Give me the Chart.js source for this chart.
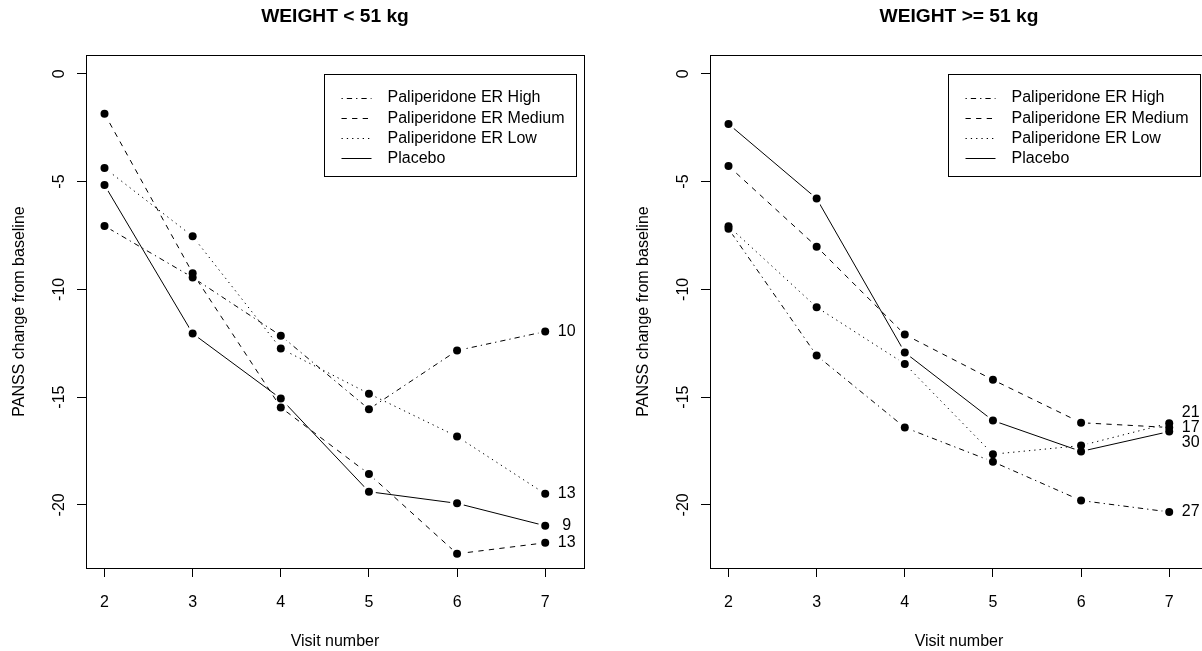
<!DOCTYPE html>
<html>
<head>
<meta charset="utf-8">
<script src="https://cdn.jsdelivr.net/npm/chart.js@4.4.1/dist/chart.umd.min.js"></script>
<style>
  html, body { margin: 0; padding: 0; background: #fff; }
  #wrap { position: relative; width: 1202px; height: 651px; overflow: hidden; }
  canvas { position: absolute; top: 0; }
</style>
</head>
<body>
<div id="wrap">
  <canvas id="chart-light" width="624" height="651" style="left:0"></canvas>
  <canvas id="chart-heavy" width="624" height="651" style="left:624px"></canvas>
</div>
<script>
// visits and axis ticks
var visits = [2, 3, 4, 5, 6, 7];
var xTicks = [2, 3, 4, 5, 6, 7];
var yTicks = [0, -5, -10, -15, -20];
var seriesNames = ['Paliperidone ER High', 'Paliperidone ER Medium', 'Paliperidone ER Low', 'Placebo'];

// WEIGHT < 51 kg
var lightHigh    = [-7.06, -9.45, -12.15, -15.56, -12.84, -11.96];
var lightMedium  = [-1.85, -9.25, -15.48, -18.57, -22.27, -21.76];
var lightLow     = [-4.37, -7.54, -12.75, -14.84, -16.83, -19.49];
var lightPlacebo = [-5.16, -12.05, -15.07, -19.39, -19.93, -20.97];
var lightN = [10, 13, 13, 9];

// WEIGHT >= 51 kg
var heavyHigh    = [-7.19, -13.07, -16.41, -18.00, -19.80, -20.33];
var heavyMedium  = [-4.28, -8.02, -12.10, -14.20, -16.19, -16.41];
var heavyLow     = [-7.07, -10.83, -13.46, -17.65, -17.25, -16.21];
var heavyPlacebo = [-2.33, -5.79, -12.93, -16.09, -17.52, -16.60];
var heavyN = [27, 17, 21, 30];

// R line types: dotdash, dashed, dotted, solid
var lineDashes = [[1.3, 4, 5.3, 4], [5.3, 5.3], [1.3, 4], []];

var FONT = '"Liberation Sans", Arial, sans-serif';
Chart.defaults.font.family = FONT;
Chart.defaults.font.size = 16;
Chart.defaults.color = '#000';

// full box round the plot region
var boxPlugin = {
  id: 'box',
  afterDatasetsDraw: function(chart) {
    var a = chart.chartArea, ctx = chart.ctx;
    var l = Math.round(a.left), t = Math.round(a.top), r = Math.round(a.right), b = Math.round(a.bottom);
    ctx.save();
    ctx.strokeStyle = '#000';
    ctx.lineWidth = 1;
    ctx.strokeRect(l + 0.5, t + 0.5, r - l, b - t);
    ctx.restore();
  }
};

// sample sizes written next to the last visit, spread apart when they crowd
var endLabels = {
  id: 'endLabels',
  afterDatasetsDraw: function(chart, args, opts) {
    var ctx = chart.ctx, items = [];
    chart.data.datasets.forEach(function(ds, i) {
      if (ds.pointsOnly) return;
      var pts = chart.getDatasetMeta(i).data;
      var last = pts[pts.length - 1];
      items.push({x: last.x, y: last.y, text: String(opts.counts[ds.series])});
    });
    items.sort(function(a, b) { return a.y - b.y; });
    var gap = 15;
    var clusters = items.map(function(it) { return {items: [it], mean: it.y}; });
    var top = function(c) { return c.mean - (c.items.length - 1) / 2 * gap; };
    var bot = function(c) { return c.mean + (c.items.length - 1) / 2 * gap; };
    var merged = true;
    while (merged) {
      merged = false;
      for (var k = 1; k < clusters.length; k++) {
        if (top(clusters[k]) - bot(clusters[k - 1]) < gap) {
          var all = clusters[k - 1].items.concat(clusters[k].items);
          var mean = all.reduce(function(s, it) { return s + it.y; }, 0) / all.length;
          clusters.splice(k - 1, 2, {items: all, mean: mean});
          merged = true;
          break;
        }
      }
    }
    ctx.save();
    ctx.fillStyle = '#000';
    ctx.font = '16px ' + FONT;
    ctx.textAlign = 'center';
    ctx.textBaseline = 'middle';
    clusters.forEach(function(c) {
      c.items.forEach(function(it, j) {
        ctx.fillText(it.text, it.x + 21.5, top(c) + j * gap);
      });
    });
    ctx.restore();
  }
};

// R style legend box in the top right of the plot
var rLegend = {
  id: 'rLegend',
  afterDraw: function(chart) {
    var ctx = chart.ctx, a = chart.chartArea;
    var w = 252, h = 102;
    var x0 = Math.round(a.right - 8.5 - w), y0 = Math.round(a.top + 18.5);
    ctx.save();
    ctx.fillStyle = '#fff';
    ctx.fillRect(x0, y0, w, h);
    ctx.strokeStyle = '#000';
    ctx.lineWidth = 1;
    ctx.strokeRect(x0 + 0.5, y0 + 0.5, w, h);
    var row = 0;
    chart.data.datasets.forEach(function(ds) {
      if (ds.pointsOnly) return;
      var y = y0 + 24 + row * 20.1;
      ctx.setLineDash(ds.borderDash);
      ctx.beginPath();
      ctx.moveTo(x0 + 17.5, Math.round(y) + 0.5);
      ctx.lineTo(x0 + 47.5, Math.round(y) + 0.5);
      ctx.stroke();
      ctx.setLineDash([]);
      ctx.fillStyle = '#000';
      ctx.font = '16px ' + FONT;
      ctx.textAlign = 'left';
      ctx.textBaseline = 'middle';
      ctx.fillText(ds.label, x0 + 63.5, y);
      row++;
    });
    ctx.restore();
  }
};

function makeChart(id, title, series, counts) {
  var datasets = [];
  series.forEach(function(vals, i) {
    var pts = visits.map(function(v, j) { return {x: v, y: vals[j]}; });
    // line with white discs so the line stops short of each point (type = "b")
    datasets.push({
      label: seriesNames[i],
      series: i,
      data: pts,
      borderColor: '#000',
      borderWidth: 1,
      borderDash: lineDashes[i],
      pointRadius: 7,
      pointBorderWidth: 0,
      pointBackgroundColor: '#fff',
      fill: false,
      tension: 0,
      order: 2
    });
    datasets.push({
      pointsOnly: true,
      data: pts,
      showLine: false,
      pointRadius: 4,
      pointBorderWidth: 0,
      pointBackgroundColor: '#000',
      order: 1
    });
  });

  return new Chart(document.getElementById(id).getContext('2d'), {
    type: 'line',
    data: { datasets: datasets },
    options: {
      responsive: false,
      animation: false,
      events: [],
      layout: { padding: { left: 0, right: 40, top: 0, bottom: 0 } },
      plugins: {
        legend: { display: false },
        tooltip: { enabled: false },
        title: {
          display: true,
          text: title,
          fullSize: false,
          color: '#000',
          font: { size: 19.2, weight: 'bold' },
          padding: { top: 5.5, bottom: 26.5 }
        },
        endLabels: { counts: counts }
      },
      scales: {
        x: {
          type: 'linear',
          min: 1.79,
          max: 7.44,
          afterBuildTicks: function(s) { s.ticks = xTicks.map(function(v) { return {value: v}; }); },
          afterFit: function(s) { s.height = 83; },
          grid: { drawOnChartArea: false, drawTicks: true, tickLength: 9, color: '#000' },
          border: { display: false },
          ticks: { padding: 16, color: '#000', font: { size: 16 } },
          title: { display: true, text: 'Visit number', color: '#000', font: { size: 16 }, padding: { top: 0, bottom: 0 } }
        },
        y: {
          type: 'linear',
          min: -22.93,
          max: 0.87,
          afterBuildTicks: function(s) { s.ticks = yTicks.map(function(v) { return {value: v}; }); },
          afterFit: function(s) { s.width = 86; },
          grid: { drawOnChartArea: false, drawTicks: true, tickLength: 9, color: '#000' },
          border: { display: false },
          ticks: { padding: 6, minRotation: 90, maxRotation: 90, crossAlign: 'center', color: '#000', font: { size: 16 } },
          title: { display: true, text: 'PANSS change from baseline', color: '#000', font: { size: 16 }, padding: { top: 10, bottom: 0 } }
        }
      }
    },
    plugins: [boxPlugin, endLabels, rLegend]
  });
}

makeChart('chart-light', 'WEIGHT < 51 kg', [lightHigh, lightMedium, lightLow, lightPlacebo], lightN);
makeChart('chart-heavy', 'WEIGHT >= 51 kg', [heavyHigh, heavyMedium, heavyLow, heavyPlacebo], heavyN);
</script>
</body>
</html>
